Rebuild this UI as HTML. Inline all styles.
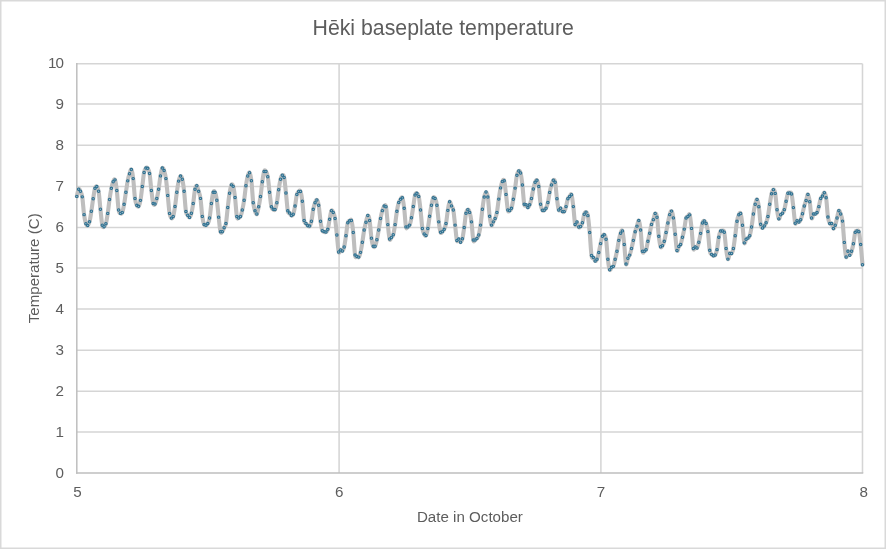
<!DOCTYPE html>
<html><head><meta charset="utf-8"><title>Chart</title>
<style>
html,body{margin:0;padding:0;background:#fff;}
body{width:886px;height:549px;overflow:hidden;font-family:"Liberation Sans",sans-serif;}
svg{display:block;}
text{font-family:"Liberation Sans",sans-serif;fill:#5d5d5d;}
svg{will-change:transform;}
</style></head><body>
<svg width="886" height="549" viewBox="0 0 886 549">
<rect x="0" y="0" width="886" height="549" fill="#ffffff"/>
<rect x="0.75" y="0.75" width="884.5" height="547.5" fill="none" stroke="#d9d9d9" stroke-width="1.5"/>
<g stroke="#d5d5d5" stroke-width="1.55" fill="none"><line x1="76.80" y1="431.90" x2="862.50" y2="431.90"/><line x1="76.80" y1="391.30" x2="862.50" y2="391.30"/><line x1="76.80" y1="350.20" x2="862.50" y2="350.20"/><line x1="76.80" y1="308.90" x2="862.50" y2="308.90"/><line x1="76.80" y1="268.00" x2="862.50" y2="268.00"/><line x1="76.80" y1="227.40" x2="862.50" y2="227.40"/><line x1="76.80" y1="186.40" x2="862.50" y2="186.40"/><line x1="76.80" y1="145.30" x2="862.50" y2="145.30"/><line x1="76.80" y1="104.00" x2="862.50" y2="104.00"/><line x1="76.80" y1="63.74" x2="862.50" y2="63.74"/><line x1="339.10" y1="63.74" x2="339.10" y2="472.90"/><line x1="600.90" y1="63.74" x2="600.90" y2="472.90"/><line x1="862.50" y1="63.74" x2="862.50" y2="472.90"/></g>
<g stroke="#bebebe" stroke-width="1.5" fill="none" stroke-linecap="square"><line x1="76.80" y1="472.90" x2="862.50" y2="472.90"/><line x1="76.80" y1="63.74" x2="76.80" y2="472.90"/></g>
<path d="M76.80 196.38 C77.10 195.18 78.01 190.02 78.62 189.18 C79.22 188.33 79.83 190.00 80.44 191.29 C81.04 192.57 81.65 192.98 82.26 196.87 C82.86 200.76 83.47 210.16 84.08 214.63 C84.68 219.10 85.29 221.89 85.89 223.69 C86.50 225.49 87.11 225.74 87.71 225.43 C88.32 225.12 88.92 224.19 89.53 221.83 C90.14 219.47 90.74 215.12 91.35 211.28 C91.96 207.43 92.56 202.56 93.17 198.74 C93.78 194.91 94.38 190.33 94.99 188.31 C95.59 186.28 96.20 186.07 96.81 186.57 C97.41 187.07 98.02 187.50 98.62 191.29 C99.23 195.07 99.84 203.64 100.44 209.29 C101.05 214.94 101.66 222.28 102.26 225.18 C102.87 228.08 103.47 226.92 104.08 226.67 C104.69 226.42 105.29 225.90 105.90 223.69 C106.51 221.48 107.11 217.42 107.72 213.39 C108.33 209.35 108.93 203.66 109.54 199.48 C110.14 195.30 110.75 191.27 111.36 188.31 C111.96 185.35 112.57 183.13 113.17 181.73 C113.78 180.32 114.39 178.42 114.99 179.86 C115.60 181.31 116.21 185.39 116.81 190.42 C117.42 195.45 118.02 206.21 118.63 210.03 C119.24 213.86 119.84 212.97 120.45 213.39 C121.06 213.80 121.66 214.03 122.27 212.52 C122.88 211.01 123.48 207.70 124.09 204.32 C124.69 200.95 125.30 196.19 125.91 192.28 C126.51 188.37 127.12 183.96 127.72 180.86 C128.33 177.75 128.94 175.54 129.54 173.66 C130.15 171.77 130.76 168.73 131.36 169.56 C131.97 170.39 132.58 173.80 133.18 178.62 C133.79 183.44 134.39 194.04 135.00 198.49 C135.61 202.94 136.21 204.01 136.82 205.32 C137.42 206.62 138.03 207.14 138.64 206.31 C139.24 205.48 139.85 203.66 140.46 200.35 C141.06 197.04 141.67 191.10 142.28 186.44 C142.88 181.79 143.49 175.48 144.09 172.42 C144.70 169.35 145.31 168.75 145.91 168.07 C146.52 167.39 147.12 167.43 147.73 168.32 C148.34 169.21 148.94 169.73 149.55 173.41 C150.16 177.09 150.76 185.41 151.37 190.42 C151.97 195.43 152.58 201.18 153.19 203.45 C153.79 205.73 154.40 204.90 155.01 204.07 C155.61 203.25 156.22 200.97 156.82 198.49 C157.43 196.00 158.04 192.94 158.64 189.18 C159.25 185.41 159.86 179.41 160.46 175.89 C161.07 172.37 161.68 168.96 162.28 168.07 C162.89 167.18 163.49 168.79 164.10 170.55 C164.71 172.31 165.31 174.48 165.92 178.62 C166.52 182.76 167.13 189.59 167.74 195.38 C168.34 201.18 168.95 209.60 169.56 213.39 C170.16 217.17 170.77 217.59 171.38 218.10 C171.98 218.62 172.59 218.41 173.19 216.49 C173.80 214.57 174.41 210.59 175.01 206.56 C175.62 202.52 176.23 196.52 176.83 192.28 C177.44 188.04 178.04 183.80 178.65 181.11 C179.26 178.41 179.86 176.40 180.47 176.09 C181.07 175.78 181.68 176.72 182.29 179.26 C182.89 181.79 183.50 185.95 184.11 191.31 C184.71 196.68 185.32 207.43 185.93 211.43 C186.53 215.42 187.14 214.28 187.74 215.28 C188.35 216.27 188.96 217.72 189.56 217.39 C190.17 217.05 190.78 215.61 191.38 213.29 C191.99 210.97 192.59 207.50 193.20 203.48 C193.81 199.47 194.41 192.16 195.02 189.20 C195.62 186.24 196.23 185.38 196.84 185.73 C197.44 186.08 198.05 189.20 198.66 191.31 C199.26 193.42 199.87 194.21 200.48 198.39 C201.08 202.57 201.69 212.05 202.29 216.39 C202.90 220.74 203.51 222.99 204.11 224.46 C204.72 225.93 205.33 225.35 205.93 225.21 C206.54 225.06 207.14 224.79 207.75 223.59 C208.36 222.39 208.96 221.36 209.57 218.01 C210.18 214.65 210.78 207.76 211.39 203.48 C211.99 199.20 212.60 194.17 213.21 192.31 C213.81 190.44 214.42 190.98 215.03 192.31 C215.63 193.63 216.24 196.11 216.84 200.25 C217.45 204.39 218.06 211.90 218.66 217.14 C219.27 222.37 219.88 229.24 220.48 231.66 C221.09 234.08 221.69 232.33 222.30 231.66 C222.91 231.00 223.51 229.04 224.12 227.69 C224.73 226.35 225.33 226.97 225.94 223.59 C226.54 220.22 227.15 212.52 227.76 207.45 C228.36 202.38 228.97 196.94 229.57 193.18 C230.18 189.41 230.79 186.00 231.39 184.86 C232.00 183.72 232.61 184.24 233.21 186.35 C233.82 188.46 234.42 192.49 235.03 197.52 C235.64 202.55 236.24 213.10 236.85 216.52 C237.46 219.93 238.06 218.01 238.67 218.01 C239.27 218.01 239.88 217.86 240.49 216.52 C241.09 215.17 241.70 212.65 242.31 209.94 C242.91 207.23 243.52 204.29 244.12 200.25 C244.73 196.22 245.34 189.76 245.94 185.73 C246.55 181.69 247.16 178.22 247.76 176.04 C248.37 173.87 248.97 171.90 249.58 172.69 C250.19 173.48 250.79 175.75 251.40 180.76 C252.01 185.77 252.61 197.73 253.22 202.74 C253.82 207.74 254.43 208.92 255.04 210.81 C255.64 212.69 256.25 214.70 256.86 214.03 C257.46 213.37 258.07 209.75 258.68 206.83 C259.28 203.92 259.89 200.71 260.49 196.53 C261.10 192.35 261.71 185.93 262.31 181.75 C262.92 177.57 263.53 173.17 264.13 171.45 C264.74 169.73 265.34 170.56 265.95 171.45 C266.56 172.34 267.16 173.31 267.77 176.79 C268.38 180.26 268.98 187.30 269.59 192.31 C270.19 197.31 270.80 204.00 271.41 206.83 C272.01 209.67 272.62 208.86 273.23 209.32 C273.83 209.77 274.44 210.66 275.04 209.56 C275.65 208.47 276.26 206.05 276.86 202.74 C277.47 199.43 278.08 193.61 278.68 189.70 C279.29 185.79 279.89 181.69 280.50 179.27 C281.11 176.85 281.71 175.48 282.32 175.17 C282.93 174.86 283.53 174.44 284.14 177.41 C284.74 180.38 285.35 187.41 285.96 192.97 C286.56 198.54 287.17 207.44 287.78 210.80 C288.38 214.15 288.99 212.30 289.59 213.09 C290.20 213.88 290.81 215.35 291.41 215.53 C292.02 215.71 292.62 215.75 293.23 214.17 C293.84 212.59 294.44 209.32 295.05 206.05 C295.66 202.77 296.26 196.97 296.87 194.53 C297.48 192.09 298.08 191.94 298.69 191.42 C299.29 190.90 299.90 189.79 300.51 191.42 C301.11 193.04 301.72 196.32 302.32 201.17 C302.93 206.02 303.54 216.81 304.14 220.54 C304.75 224.26 305.36 222.66 305.96 223.52 C306.57 224.37 307.18 225.26 307.78 225.68 C308.39 226.11 308.99 226.84 309.60 226.09 C310.21 225.35 310.81 224.01 311.42 221.21 C312.02 218.42 312.63 212.39 313.24 209.30 C313.84 206.20 314.45 204.22 315.06 202.66 C315.66 201.10 316.27 199.52 316.88 199.95 C317.48 200.38 318.09 201.69 318.69 205.23 C319.30 208.78 319.91 216.97 320.51 221.21 C321.12 225.46 321.73 228.96 322.33 230.70 C322.94 232.43 323.54 231.42 324.15 231.64 C324.76 231.87 325.36 232.43 325.97 232.05 C326.57 231.67 327.18 231.46 327.79 229.34 C328.39 227.22 329.00 222.43 329.61 219.32 C330.21 216.20 330.82 211.80 331.43 210.65 C332.03 209.50 332.64 211.10 333.24 212.41 C333.85 213.72 334.46 214.74 335.06 218.51 C335.67 222.28 336.28 229.45 336.88 235.03 C337.49 240.60 338.09 249.48 338.70 251.96 C339.31 254.44 339.91 250.09 340.52 249.93 C341.12 249.77 341.73 251.51 342.34 251.01 C342.94 250.51 343.55 249.50 344.16 246.95 C344.76 244.40 345.37 239.72 345.98 235.71 C346.58 231.69 347.19 225.32 347.79 222.84 C348.40 220.36 349.01 221.19 349.61 220.81 C350.22 220.42 350.83 218.60 351.43 220.54 C352.04 222.48 352.64 226.70 353.25 232.46 C353.86 238.21 354.46 251.08 355.07 255.07 C355.68 259.07 356.28 256.09 356.89 256.43 C357.49 256.77 358.10 257.78 358.71 257.11 C359.31 256.43 359.92 254.85 360.53 252.37 C361.13 249.88 361.74 245.93 362.34 242.21 C362.95 238.48 363.56 233.36 364.16 230.02 C364.77 226.68 365.38 224.58 365.98 222.16 C366.59 219.75 367.19 215.80 367.80 215.53 C368.41 215.26 369.01 216.77 369.62 220.54 C370.23 224.31 370.83 233.86 371.44 238.14 C372.04 242.43 372.65 244.92 373.26 246.27 C373.86 247.63 374.47 247.35 375.08 246.27 C375.68 245.19 376.29 242.48 376.89 239.77 C377.50 237.06 378.11 233.56 378.71 230.02 C379.32 226.47 379.93 221.73 380.53 218.51 C381.14 215.28 381.74 212.73 382.35 210.65 C382.96 208.57 383.56 206.70 384.17 206.05 C384.78 205.39 385.38 203.63 385.99 206.72 C386.59 209.81 387.20 219.21 387.81 224.60 C388.41 230.00 389.02 236.95 389.62 239.09 C390.23 241.24 390.84 238.19 391.44 237.47 C392.05 236.74 392.66 236.90 393.26 234.76 C393.87 232.61 394.48 228.51 395.08 224.60 C395.69 220.70 396.29 215.00 396.90 211.33 C397.51 207.66 398.11 204.58 398.72 202.58 C399.32 200.58 399.93 200.12 400.54 199.33 C401.14 198.54 401.75 196.34 402.36 197.84 C402.96 199.34 403.57 203.50 404.18 208.34 C404.78 213.18 405.39 223.79 405.99 226.88 C406.60 229.98 407.21 227.18 407.81 226.88 C408.42 226.59 409.03 226.64 409.63 225.12 C410.24 223.61 410.84 220.90 411.45 217.81 C412.06 214.72 412.66 210.36 413.27 206.57 C413.88 202.78 414.48 197.27 415.09 195.06 C415.69 192.84 416.30 193.07 416.91 193.30 C417.51 193.52 418.12 193.63 418.73 196.41 C419.33 199.19 419.94 204.60 420.54 209.95 C421.15 215.30 421.76 224.51 422.36 228.51 C422.97 232.51 423.58 232.78 424.18 233.93 C424.79 235.08 425.39 236.32 426.00 235.42 C426.61 234.51 427.21 231.69 427.82 228.51 C428.43 225.33 429.03 220.20 429.64 216.32 C430.24 212.44 430.85 208.31 431.46 205.21 C432.06 202.12 432.67 198.89 433.28 197.77 C433.88 196.64 434.49 197.20 435.09 198.44 C435.70 199.68 436.31 201.31 436.91 205.21 C437.52 209.12 438.13 217.36 438.73 221.87 C439.34 226.39 439.94 230.68 440.55 232.30 C441.16 233.93 441.76 232.12 442.37 231.63 C442.98 231.13 443.58 230.68 444.19 229.32 C444.79 227.97 445.40 226.66 446.01 223.50 C446.61 220.34 447.22 213.97 447.83 210.36 C448.43 206.75 449.04 202.57 449.64 201.83 C450.25 201.08 450.86 204.54 451.46 205.89 C452.07 207.25 452.68 206.75 453.28 209.95 C453.89 213.16 454.49 220.05 455.10 225.12 C455.71 230.20 456.31 238.10 456.92 240.43 C457.53 242.75 458.13 238.78 458.74 239.07 C459.34 239.37 459.95 242.23 460.56 242.19 C461.16 242.14 461.77 241.24 462.38 238.80 C462.98 236.37 463.59 231.81 464.19 227.56 C464.80 223.32 465.41 216.32 466.01 213.34 C466.62 210.36 467.23 209.84 467.83 209.68 C468.44 209.53 469.04 210.36 469.65 212.39 C470.26 214.42 470.86 217.27 471.47 221.87 C472.08 226.48 472.68 237.00 473.29 240.02 C473.89 243.05 474.50 240.29 475.11 240.02 C475.71 239.75 476.32 239.23 476.93 238.40 C477.53 237.56 478.14 237.22 478.74 235.01 C479.35 232.80 479.96 229.41 480.56 225.12 C481.17 220.84 481.78 213.95 482.38 209.28 C482.99 204.60 483.59 199.98 484.20 197.09 C484.81 194.20 485.41 191.94 486.02 191.94 C486.62 191.94 487.23 193.02 487.84 197.09 C488.44 201.15 489.05 211.65 489.66 216.32 C490.26 220.99 490.87 224.20 491.48 225.12 C492.08 226.05 492.69 222.98 493.29 221.87 C493.90 220.77 494.51 220.07 495.11 218.49 C495.72 216.91 496.33 215.62 496.93 212.39 C497.54 209.16 498.14 203.21 498.75 199.12 C499.36 195.03 499.96 190.81 500.57 187.88 C501.18 184.94 501.78 182.69 502.39 181.51 C502.99 180.34 503.60 178.69 504.21 180.84 C504.81 182.98 505.42 189.53 506.03 194.38 C506.63 199.23 507.24 207.25 507.84 209.95 C508.45 212.66 509.06 210.90 509.66 210.63 C510.27 210.36 510.88 210.21 511.48 208.33 C512.09 206.45 512.69 202.71 513.30 199.34 C513.91 195.97 514.51 192.10 515.12 188.10 C515.73 184.09 516.33 178.15 516.94 175.30 C517.54 172.45 518.15 171.36 518.76 170.98 C519.36 170.60 519.97 170.69 520.58 173.01 C521.18 175.34 521.79 179.74 522.39 184.93 C523.00 190.12 523.61 200.84 524.21 204.16 C524.82 207.48 525.42 204.28 526.03 204.84 C526.64 205.40 527.24 207.55 527.85 207.55 C528.46 207.55 529.06 206.35 529.67 204.84 C530.28 203.33 530.88 201.12 531.49 198.47 C532.09 195.83 532.70 191.70 533.31 188.99 C533.91 186.28 534.52 183.69 535.12 182.22 C535.73 180.75 536.34 179.47 536.94 180.19 C537.55 180.91 538.16 182.56 538.76 186.56 C539.37 190.55 539.97 200.21 540.58 204.16 C541.19 208.11 541.79 209.24 542.40 210.26 C543.01 211.27 543.61 210.60 544.22 210.26 C544.83 209.92 545.43 209.51 546.04 208.23 C546.64 206.94 547.25 205.18 547.86 202.54 C548.46 199.90 549.07 195.31 549.67 192.38 C550.28 189.44 550.89 186.96 551.49 184.93 C552.10 182.90 552.71 180.64 553.31 180.19 C553.92 179.74 554.52 179.13 555.13 182.22 C555.74 185.31 556.34 194.12 556.95 198.74 C557.56 203.37 558.16 208.41 558.77 209.99 C559.38 211.57 559.98 207.95 560.59 208.23 C561.19 208.50 561.80 211.05 562.41 211.61 C563.01 212.18 563.62 212.45 564.23 211.61 C564.83 210.78 565.44 208.74 566.04 206.60 C566.65 204.46 567.26 200.44 567.86 198.74 C568.47 197.05 569.07 197.12 569.68 196.44 C570.29 195.77 570.89 192.99 571.50 194.68 C572.11 196.37 572.71 201.64 573.32 206.60 C573.93 211.56 574.53 221.88 575.14 224.43 C575.74 226.98 576.35 221.49 576.96 221.92 C577.56 222.35 578.17 226.25 578.77 227.00 C579.38 227.76 579.99 227.17 580.59 226.46 C581.20 225.75 581.81 224.78 582.41 222.74 C583.02 220.69 583.62 215.98 584.23 214.20 C584.84 212.43 585.44 211.87 586.05 212.10 C586.66 212.34 587.26 212.22 587.87 215.63 C588.48 219.03 589.08 225.90 589.69 232.56 C590.29 239.21 590.90 251.36 591.51 255.53 C592.11 259.70 592.72 256.66 593.33 257.56 C593.93 258.47 594.54 260.68 595.14 260.95 C595.75 261.22 596.36 260.59 596.96 259.19 C597.57 257.79 598.17 255.15 598.78 252.55 C599.39 249.95 599.99 246.32 600.60 243.61 C601.21 240.90 601.81 237.77 602.42 236.30 C603.03 234.83 603.63 234.31 604.24 234.81 C604.84 235.30 605.45 235.21 606.06 239.28 C606.66 243.34 607.27 254.11 607.88 259.19 C608.48 264.27 609.09 268.40 609.69 269.75 C610.30 271.11 610.91 267.88 611.51 267.31 C612.12 266.75 612.72 267.72 613.33 266.37 C613.94 265.01 614.54 261.72 615.15 259.19 C615.76 256.66 616.36 254.33 616.97 251.20 C617.58 248.06 618.18 243.36 618.79 240.36 C619.39 237.36 620.00 234.76 620.61 233.18 C621.21 231.60 621.82 229.01 622.42 230.88 C623.03 232.75 623.64 238.89 624.24 244.42 C624.85 249.95 625.46 261.76 626.06 264.06 C626.67 266.37 627.27 259.73 627.88 258.24 C628.49 256.75 629.09 256.75 629.70 255.12 C630.31 253.50 630.91 250.95 631.52 248.49 C632.12 246.03 632.73 243.14 633.34 240.36 C633.94 237.58 634.55 234.20 635.16 231.83 C635.76 229.46 636.37 228.01 636.98 226.14 C637.58 224.27 638.19 219.93 638.79 220.59 C639.40 221.24 640.01 224.97 640.61 230.07 C641.22 235.17 641.82 247.67 642.43 251.20 C643.04 254.72 643.64 251.44 644.25 251.20 C644.86 250.95 645.46 251.35 646.07 249.71 C646.68 248.06 647.28 244.06 647.89 241.31 C648.49 238.56 649.10 236.00 649.71 233.18 C650.31 230.36 650.92 226.64 651.52 224.38 C652.13 222.12 652.74 221.44 653.34 219.64 C653.95 217.83 654.56 213.95 655.16 213.54 C655.77 213.14 656.38 213.41 656.98 217.20 C657.59 220.99 658.19 231.38 658.80 236.30 C659.41 241.22 660.01 245.17 660.62 246.73 C661.23 248.28 661.83 246.55 662.44 245.64 C663.04 244.74 663.65 243.50 664.26 241.31 C664.86 239.12 665.47 235.55 666.08 232.51 C666.68 229.46 667.29 226.00 667.89 223.02 C668.50 220.05 669.11 216.61 669.71 214.63 C670.32 212.64 670.92 210.56 671.53 211.11 C672.14 211.65 672.74 214.02 673.35 217.88 C673.96 221.74 674.56 228.83 675.17 234.27 C675.78 239.71 676.38 248.49 676.99 250.52 C677.59 252.55 678.20 247.47 678.81 246.46 C679.41 245.44 680.02 245.96 680.62 244.42 C681.23 242.89 681.84 239.80 682.44 237.25 C683.05 234.70 683.66 232.33 684.26 229.12 C684.87 225.91 685.47 220.12 686.08 218.01 C686.69 215.91 687.29 217.01 687.90 216.48 C688.51 215.96 689.11 212.87 689.72 214.86 C690.33 216.84 690.93 222.79 691.54 228.40 C692.14 234.01 692.75 245.43 693.36 248.51 C693.96 251.60 694.57 247.00 695.17 246.92 C695.78 246.83 696.39 248.79 696.99 248.00 C697.60 247.21 698.21 244.61 698.81 242.18 C699.42 239.74 700.03 236.58 700.63 233.37 C701.24 230.17 701.84 225.02 702.45 222.94 C703.06 220.87 703.66 220.82 704.27 220.91 C704.88 221.00 705.48 221.70 706.09 223.49 C706.69 225.27 707.30 227.14 707.91 231.61 C708.51 236.08 709.12 246.51 709.73 250.30 C710.33 254.09 710.94 253.46 711.54 254.37 C712.15 255.27 712.76 255.61 713.36 255.72 C713.97 255.83 714.57 256.06 715.18 255.04 C715.79 254.03 716.39 252.60 717.00 249.63 C717.61 246.65 718.21 240.26 718.82 237.16 C719.42 234.07 720.03 232.11 720.64 231.07 C721.24 230.03 721.85 230.73 722.46 230.93 C723.06 231.14 723.67 229.35 724.27 232.29 C724.88 235.22 725.49 244.07 726.09 248.54 C726.70 253.01 727.31 258.29 727.91 259.11 C728.52 259.92 729.12 254.37 729.73 253.42 C730.34 252.47 730.94 254.23 731.55 253.42 C732.16 252.60 732.76 251.50 733.37 248.54 C733.98 245.58 734.58 240.23 735.19 235.67 C735.79 231.12 736.40 224.66 737.01 221.18 C737.61 217.71 738.22 216.10 738.82 214.82 C739.43 213.53 740.04 211.72 740.64 213.46 C741.25 215.20 741.86 220.35 742.46 225.25 C743.07 230.14 743.67 240.53 744.28 242.85 C744.89 245.18 745.49 239.99 746.10 239.20 C746.71 238.41 747.31 238.70 747.92 238.11 C748.52 237.53 749.13 237.53 749.74 235.67 C750.34 233.82 750.95 230.62 751.56 227.01 C752.16 223.40 752.77 217.80 753.38 214.00 C753.98 210.21 754.59 206.67 755.19 204.25 C755.80 201.84 756.41 199.11 757.01 199.51 C757.62 199.92 758.22 202.56 758.83 206.69 C759.44 210.82 760.04 220.75 760.65 224.30 C761.26 227.84 761.86 227.68 762.47 227.95 C763.08 228.23 763.68 226.78 764.29 225.92 C764.89 225.07 765.50 224.39 766.11 222.81 C766.71 221.23 767.32 219.53 767.92 216.44 C768.53 213.35 769.14 208.02 769.74 204.25 C770.35 200.48 770.96 196.26 771.56 193.82 C772.17 191.39 772.77 189.70 773.38 189.63 C773.99 189.55 774.59 190.03 775.20 193.39 C775.81 196.74 776.41 205.53 777.02 209.77 C777.62 214.02 778.23 218.01 778.84 218.85 C779.44 219.68 780.05 215.73 780.66 214.79 C781.26 213.84 781.87 214.02 782.48 213.16 C783.08 212.30 783.69 211.64 784.29 209.64 C784.90 207.64 785.51 203.91 786.11 201.17 C786.72 198.44 787.32 194.63 787.93 193.25 C788.54 191.87 789.14 192.80 789.75 192.91 C790.36 193.02 790.96 191.48 791.57 193.93 C792.18 196.38 792.78 202.73 793.39 207.61 C793.99 212.48 794.60 221.02 795.21 223.18 C795.81 225.35 796.42 220.79 797.02 220.61 C797.63 220.43 798.24 222.26 798.84 222.10 C799.45 221.94 800.06 221.06 800.66 219.66 C801.27 218.26 801.88 215.99 802.48 213.70 C803.09 211.41 803.69 208.13 804.30 205.91 C804.91 203.70 805.51 202.35 806.12 200.43 C806.73 198.51 807.33 194.18 807.94 194.40 C808.54 194.62 809.15 197.82 809.76 201.75 C810.36 205.69 810.97 215.97 811.58 218.00 C812.18 220.04 812.79 214.62 813.39 213.94 C814.00 213.26 814.61 214.17 815.21 213.94 C815.82 213.72 816.42 213.81 817.03 212.59 C817.64 211.37 818.24 208.98 818.85 206.63 C819.46 204.28 820.06 200.26 820.67 198.50 C821.28 196.74 821.88 197.03 822.49 196.06 C823.09 195.09 823.70 192.38 824.31 192.68 C824.91 192.97 825.52 193.76 826.12 197.82 C826.73 201.89 827.34 212.77 827.94 217.06 C828.55 221.35 829.16 222.47 829.76 223.56 C830.37 224.64 830.97 222.72 831.58 223.56 C832.19 224.39 832.79 228.30 833.40 228.57 C834.01 228.84 834.61 226.94 835.22 225.18 C835.83 223.42 836.43 220.42 837.04 218.00 C837.64 215.59 838.25 211.37 838.86 210.69 C839.46 210.01 840.07 212.20 840.67 213.94 C841.28 215.68 841.89 216.38 842.49 221.12 C843.10 225.86 843.71 236.40 844.31 242.38 C844.92 248.37 845.52 255.54 846.13 257.01 C846.74 258.48 847.34 251.48 847.95 251.19 C848.56 250.89 849.16 255.25 849.77 255.25 C850.38 255.25 850.98 253.11 851.59 251.19 C852.19 249.27 852.80 246.88 853.41 243.74 C854.01 240.60 854.62 234.48 855.23 232.36 C855.83 230.24 856.44 231.12 857.04 231.01 C857.65 230.89 858.26 229.43 858.86 231.68 C859.47 233.94 860.07 239.04 860.68 244.55 C861.29 250.06 862.20 261.37 862.50 264.73" fill="none" stroke="#bebebe" stroke-width="4.1" stroke-linejoin="round" stroke-linecap="round"/>
<g fill="#9dbccb" stroke="#2b6f90" stroke-width="1.05"><circle cx="76.80" cy="196.38" r="1.2"/><circle cx="78.62" cy="189.18" r="1.2"/><circle cx="80.44" cy="191.29" r="1.2"/><circle cx="82.26" cy="196.87" r="1.2"/><circle cx="84.08" cy="214.63" r="1.2"/><circle cx="85.89" cy="223.69" r="1.2"/><circle cx="87.71" cy="225.43" r="1.2"/><circle cx="89.53" cy="221.83" r="1.2"/><circle cx="91.35" cy="211.28" r="1.2"/><circle cx="93.17" cy="198.74" r="1.2"/><circle cx="94.99" cy="188.31" r="1.2"/><circle cx="96.81" cy="186.57" r="1.2"/><circle cx="98.62" cy="191.29" r="1.2"/><circle cx="100.44" cy="209.29" r="1.2"/><circle cx="102.26" cy="225.18" r="1.2"/><circle cx="104.08" cy="226.67" r="1.2"/><circle cx="105.90" cy="223.69" r="1.2"/><circle cx="107.72" cy="213.39" r="1.2"/><circle cx="109.54" cy="199.48" r="1.2"/><circle cx="111.36" cy="188.31" r="1.2"/><circle cx="113.17" cy="181.73" r="1.2"/><circle cx="114.99" cy="179.86" r="1.2"/><circle cx="116.81" cy="190.42" r="1.2"/><circle cx="118.63" cy="210.03" r="1.2"/><circle cx="120.45" cy="213.39" r="1.2"/><circle cx="122.27" cy="212.52" r="1.2"/><circle cx="124.09" cy="204.32" r="1.2"/><circle cx="125.91" cy="192.28" r="1.2"/><circle cx="127.72" cy="180.86" r="1.2"/><circle cx="129.54" cy="173.66" r="1.2"/><circle cx="131.36" cy="169.56" r="1.2"/><circle cx="133.18" cy="178.62" r="1.2"/><circle cx="135.00" cy="198.49" r="1.2"/><circle cx="136.82" cy="205.32" r="1.2"/><circle cx="138.64" cy="206.31" r="1.2"/><circle cx="140.46" cy="200.35" r="1.2"/><circle cx="142.28" cy="186.44" r="1.2"/><circle cx="144.09" cy="172.42" r="1.2"/><circle cx="145.91" cy="168.07" r="1.2"/><circle cx="147.73" cy="168.32" r="1.2"/><circle cx="149.55" cy="173.41" r="1.2"/><circle cx="151.37" cy="190.42" r="1.2"/><circle cx="153.19" cy="203.45" r="1.2"/><circle cx="155.01" cy="204.07" r="1.2"/><circle cx="156.82" cy="198.49" r="1.2"/><circle cx="158.64" cy="189.18" r="1.2"/><circle cx="160.46" cy="175.89" r="1.2"/><circle cx="162.28" cy="168.07" r="1.2"/><circle cx="164.10" cy="170.55" r="1.2"/><circle cx="165.92" cy="178.62" r="1.2"/><circle cx="167.74" cy="195.38" r="1.2"/><circle cx="169.56" cy="213.39" r="1.2"/><circle cx="171.38" cy="218.10" r="1.2"/><circle cx="173.19" cy="216.49" r="1.2"/><circle cx="175.01" cy="206.56" r="1.2"/><circle cx="176.83" cy="192.28" r="1.2"/><circle cx="178.65" cy="181.11" r="1.2"/><circle cx="180.47" cy="176.09" r="1.2"/><circle cx="182.29" cy="179.26" r="1.2"/><circle cx="184.11" cy="191.31" r="1.2"/><circle cx="185.93" cy="211.43" r="1.2"/><circle cx="187.74" cy="215.28" r="1.2"/><circle cx="189.56" cy="217.39" r="1.2"/><circle cx="191.38" cy="213.29" r="1.2"/><circle cx="193.20" cy="203.48" r="1.2"/><circle cx="195.02" cy="189.20" r="1.2"/><circle cx="196.84" cy="185.73" r="1.2"/><circle cx="198.66" cy="191.31" r="1.2"/><circle cx="200.48" cy="198.39" r="1.2"/><circle cx="202.29" cy="216.39" r="1.2"/><circle cx="204.11" cy="224.46" r="1.2"/><circle cx="205.93" cy="225.21" r="1.2"/><circle cx="207.75" cy="223.59" r="1.2"/><circle cx="209.57" cy="218.01" r="1.2"/><circle cx="211.39" cy="203.48" r="1.2"/><circle cx="213.21" cy="192.31" r="1.2"/><circle cx="215.03" cy="192.31" r="1.2"/><circle cx="216.84" cy="200.25" r="1.2"/><circle cx="218.66" cy="217.14" r="1.2"/><circle cx="220.48" cy="231.66" r="1.2"/><circle cx="222.30" cy="231.66" r="1.2"/><circle cx="224.12" cy="227.69" r="1.2"/><circle cx="225.94" cy="223.59" r="1.2"/><circle cx="227.76" cy="207.45" r="1.2"/><circle cx="229.57" cy="193.18" r="1.2"/><circle cx="231.39" cy="184.86" r="1.2"/><circle cx="233.21" cy="186.35" r="1.2"/><circle cx="235.03" cy="197.52" r="1.2"/><circle cx="236.85" cy="216.52" r="1.2"/><circle cx="238.67" cy="218.01" r="1.2"/><circle cx="240.49" cy="216.52" r="1.2"/><circle cx="242.31" cy="209.94" r="1.2"/><circle cx="244.12" cy="200.25" r="1.2"/><circle cx="245.94" cy="185.73" r="1.2"/><circle cx="247.76" cy="176.04" r="1.2"/><circle cx="249.58" cy="172.69" r="1.2"/><circle cx="251.40" cy="180.76" r="1.2"/><circle cx="253.22" cy="202.74" r="1.2"/><circle cx="255.04" cy="210.81" r="1.2"/><circle cx="256.86" cy="214.03" r="1.2"/><circle cx="258.68" cy="206.83" r="1.2"/><circle cx="260.49" cy="196.53" r="1.2"/><circle cx="262.31" cy="181.75" r="1.2"/><circle cx="264.13" cy="171.45" r="1.2"/><circle cx="265.95" cy="171.45" r="1.2"/><circle cx="267.77" cy="176.79" r="1.2"/><circle cx="269.59" cy="192.31" r="1.2"/><circle cx="271.41" cy="206.83" r="1.2"/><circle cx="273.23" cy="209.32" r="1.2"/><circle cx="275.04" cy="209.56" r="1.2"/><circle cx="276.86" cy="202.74" r="1.2"/><circle cx="278.68" cy="189.70" r="1.2"/><circle cx="280.50" cy="179.27" r="1.2"/><circle cx="282.32" cy="175.17" r="1.2"/><circle cx="284.14" cy="177.41" r="1.2"/><circle cx="285.96" cy="192.97" r="1.2"/><circle cx="287.78" cy="210.80" r="1.2"/><circle cx="289.59" cy="213.09" r="1.2"/><circle cx="291.41" cy="215.53" r="1.2"/><circle cx="293.23" cy="214.17" r="1.2"/><circle cx="295.05" cy="206.05" r="1.2"/><circle cx="296.87" cy="194.53" r="1.2"/><circle cx="298.69" cy="191.42" r="1.2"/><circle cx="300.51" cy="191.42" r="1.2"/><circle cx="302.32" cy="201.17" r="1.2"/><circle cx="304.14" cy="220.54" r="1.2"/><circle cx="305.96" cy="223.52" r="1.2"/><circle cx="307.78" cy="225.68" r="1.2"/><circle cx="309.60" cy="226.09" r="1.2"/><circle cx="311.42" cy="221.21" r="1.2"/><circle cx="313.24" cy="209.30" r="1.2"/><circle cx="315.06" cy="202.66" r="1.2"/><circle cx="316.88" cy="199.95" r="1.2"/><circle cx="318.69" cy="205.23" r="1.2"/><circle cx="320.51" cy="221.21" r="1.2"/><circle cx="322.33" cy="230.70" r="1.2"/><circle cx="324.15" cy="231.64" r="1.2"/><circle cx="325.97" cy="232.05" r="1.2"/><circle cx="327.79" cy="229.34" r="1.2"/><circle cx="329.61" cy="219.32" r="1.2"/><circle cx="331.43" cy="210.65" r="1.2"/><circle cx="333.24" cy="212.41" r="1.2"/><circle cx="335.06" cy="218.51" r="1.2"/><circle cx="336.88" cy="235.03" r="1.2"/><circle cx="338.70" cy="251.96" r="1.2"/><circle cx="340.52" cy="249.93" r="1.2"/><circle cx="342.34" cy="251.01" r="1.2"/><circle cx="344.16" cy="246.95" r="1.2"/><circle cx="345.98" cy="235.71" r="1.2"/><circle cx="347.79" cy="222.84" r="1.2"/><circle cx="349.61" cy="220.81" r="1.2"/><circle cx="351.43" cy="220.54" r="1.2"/><circle cx="353.25" cy="232.46" r="1.2"/><circle cx="355.07" cy="255.07" r="1.2"/><circle cx="356.89" cy="256.43" r="1.2"/><circle cx="358.71" cy="257.11" r="1.2"/><circle cx="360.53" cy="252.37" r="1.2"/><circle cx="362.34" cy="242.21" r="1.2"/><circle cx="364.16" cy="230.02" r="1.2"/><circle cx="365.98" cy="222.16" r="1.2"/><circle cx="367.80" cy="215.53" r="1.2"/><circle cx="369.62" cy="220.54" r="1.2"/><circle cx="371.44" cy="238.14" r="1.2"/><circle cx="373.26" cy="246.27" r="1.2"/><circle cx="375.08" cy="246.27" r="1.2"/><circle cx="376.89" cy="239.77" r="1.2"/><circle cx="378.71" cy="230.02" r="1.2"/><circle cx="380.53" cy="218.51" r="1.2"/><circle cx="382.35" cy="210.65" r="1.2"/><circle cx="384.17" cy="206.05" r="1.2"/><circle cx="385.99" cy="206.72" r="1.2"/><circle cx="387.81" cy="224.60" r="1.2"/><circle cx="389.62" cy="239.09" r="1.2"/><circle cx="391.44" cy="237.47" r="1.2"/><circle cx="393.26" cy="234.76" r="1.2"/><circle cx="395.08" cy="224.60" r="1.2"/><circle cx="396.90" cy="211.33" r="1.2"/><circle cx="398.72" cy="202.58" r="1.2"/><circle cx="400.54" cy="199.33" r="1.2"/><circle cx="402.36" cy="197.84" r="1.2"/><circle cx="404.18" cy="208.34" r="1.2"/><circle cx="405.99" cy="226.88" r="1.2"/><circle cx="407.81" cy="226.88" r="1.2"/><circle cx="409.63" cy="225.12" r="1.2"/><circle cx="411.45" cy="217.81" r="1.2"/><circle cx="413.27" cy="206.57" r="1.2"/><circle cx="415.09" cy="195.06" r="1.2"/><circle cx="416.91" cy="193.30" r="1.2"/><circle cx="418.73" cy="196.41" r="1.2"/><circle cx="420.54" cy="209.95" r="1.2"/><circle cx="422.36" cy="228.51" r="1.2"/><circle cx="424.18" cy="233.93" r="1.2"/><circle cx="426.00" cy="235.42" r="1.2"/><circle cx="427.82" cy="228.51" r="1.2"/><circle cx="429.64" cy="216.32" r="1.2"/><circle cx="431.46" cy="205.21" r="1.2"/><circle cx="433.28" cy="197.77" r="1.2"/><circle cx="435.09" cy="198.44" r="1.2"/><circle cx="436.91" cy="205.21" r="1.2"/><circle cx="438.73" cy="221.87" r="1.2"/><circle cx="440.55" cy="232.30" r="1.2"/><circle cx="442.37" cy="231.63" r="1.2"/><circle cx="444.19" cy="229.32" r="1.2"/><circle cx="446.01" cy="223.50" r="1.2"/><circle cx="447.83" cy="210.36" r="1.2"/><circle cx="449.64" cy="201.83" r="1.2"/><circle cx="451.46" cy="205.89" r="1.2"/><circle cx="453.28" cy="209.95" r="1.2"/><circle cx="455.10" cy="225.12" r="1.2"/><circle cx="456.92" cy="240.43" r="1.2"/><circle cx="458.74" cy="239.07" r="1.2"/><circle cx="460.56" cy="242.19" r="1.2"/><circle cx="462.38" cy="238.80" r="1.2"/><circle cx="464.19" cy="227.56" r="1.2"/><circle cx="466.01" cy="213.34" r="1.2"/><circle cx="467.83" cy="209.68" r="1.2"/><circle cx="469.65" cy="212.39" r="1.2"/><circle cx="471.47" cy="221.87" r="1.2"/><circle cx="473.29" cy="240.02" r="1.2"/><circle cx="475.11" cy="240.02" r="1.2"/><circle cx="476.93" cy="238.40" r="1.2"/><circle cx="478.74" cy="235.01" r="1.2"/><circle cx="480.56" cy="225.12" r="1.2"/><circle cx="482.38" cy="209.28" r="1.2"/><circle cx="484.20" cy="197.09" r="1.2"/><circle cx="486.02" cy="191.94" r="1.2"/><circle cx="487.84" cy="197.09" r="1.2"/><circle cx="489.66" cy="216.32" r="1.2"/><circle cx="491.48" cy="225.12" r="1.2"/><circle cx="493.29" cy="221.87" r="1.2"/><circle cx="495.11" cy="218.49" r="1.2"/><circle cx="496.93" cy="212.39" r="1.2"/><circle cx="498.75" cy="199.12" r="1.2"/><circle cx="500.57" cy="187.88" r="1.2"/><circle cx="502.39" cy="181.51" r="1.2"/><circle cx="504.21" cy="180.84" r="1.2"/><circle cx="506.03" cy="194.38" r="1.2"/><circle cx="507.84" cy="209.95" r="1.2"/><circle cx="509.66" cy="210.63" r="1.2"/><circle cx="511.48" cy="208.33" r="1.2"/><circle cx="513.30" cy="199.34" r="1.2"/><circle cx="515.12" cy="188.10" r="1.2"/><circle cx="516.94" cy="175.30" r="1.2"/><circle cx="518.76" cy="170.98" r="1.2"/><circle cx="520.58" cy="173.01" r="1.2"/><circle cx="522.39" cy="184.93" r="1.2"/><circle cx="524.21" cy="204.16" r="1.2"/><circle cx="526.03" cy="204.84" r="1.2"/><circle cx="527.85" cy="207.55" r="1.2"/><circle cx="529.67" cy="204.84" r="1.2"/><circle cx="531.49" cy="198.47" r="1.2"/><circle cx="533.31" cy="188.99" r="1.2"/><circle cx="535.12" cy="182.22" r="1.2"/><circle cx="536.94" cy="180.19" r="1.2"/><circle cx="538.76" cy="186.56" r="1.2"/><circle cx="540.58" cy="204.16" r="1.2"/><circle cx="542.40" cy="210.26" r="1.2"/><circle cx="544.22" cy="210.26" r="1.2"/><circle cx="546.04" cy="208.23" r="1.2"/><circle cx="547.86" cy="202.54" r="1.2"/><circle cx="549.67" cy="192.38" r="1.2"/><circle cx="551.49" cy="184.93" r="1.2"/><circle cx="553.31" cy="180.19" r="1.2"/><circle cx="555.13" cy="182.22" r="1.2"/><circle cx="556.95" cy="198.74" r="1.2"/><circle cx="558.77" cy="209.99" r="1.2"/><circle cx="560.59" cy="208.23" r="1.2"/><circle cx="562.41" cy="211.61" r="1.2"/><circle cx="564.23" cy="211.61" r="1.2"/><circle cx="566.04" cy="206.60" r="1.2"/><circle cx="567.86" cy="198.74" r="1.2"/><circle cx="569.68" cy="196.44" r="1.2"/><circle cx="571.50" cy="194.68" r="1.2"/><circle cx="573.32" cy="206.60" r="1.2"/><circle cx="575.14" cy="224.43" r="1.2"/><circle cx="576.96" cy="221.92" r="1.2"/><circle cx="578.77" cy="227.00" r="1.2"/><circle cx="580.59" cy="226.46" r="1.2"/><circle cx="582.41" cy="222.74" r="1.2"/><circle cx="584.23" cy="214.20" r="1.2"/><circle cx="586.05" cy="212.10" r="1.2"/><circle cx="587.87" cy="215.63" r="1.2"/><circle cx="589.69" cy="232.56" r="1.2"/><circle cx="591.51" cy="255.53" r="1.2"/><circle cx="593.33" cy="257.56" r="1.2"/><circle cx="595.14" cy="260.95" r="1.2"/><circle cx="596.96" cy="259.19" r="1.2"/><circle cx="598.78" cy="252.55" r="1.2"/><circle cx="600.60" cy="243.61" r="1.2"/><circle cx="602.42" cy="236.30" r="1.2"/><circle cx="604.24" cy="234.81" r="1.2"/><circle cx="606.06" cy="239.28" r="1.2"/><circle cx="607.88" cy="259.19" r="1.2"/><circle cx="609.69" cy="269.75" r="1.2"/><circle cx="611.51" cy="267.31" r="1.2"/><circle cx="613.33" cy="266.37" r="1.2"/><circle cx="615.15" cy="259.19" r="1.2"/><circle cx="616.97" cy="251.20" r="1.2"/><circle cx="618.79" cy="240.36" r="1.2"/><circle cx="620.61" cy="233.18" r="1.2"/><circle cx="622.42" cy="230.88" r="1.2"/><circle cx="624.24" cy="244.42" r="1.2"/><circle cx="626.06" cy="264.06" r="1.2"/><circle cx="627.88" cy="258.24" r="1.2"/><circle cx="629.70" cy="255.12" r="1.2"/><circle cx="631.52" cy="248.49" r="1.2"/><circle cx="633.34" cy="240.36" r="1.2"/><circle cx="635.16" cy="231.83" r="1.2"/><circle cx="636.98" cy="226.14" r="1.2"/><circle cx="638.79" cy="220.59" r="1.2"/><circle cx="640.61" cy="230.07" r="1.2"/><circle cx="642.43" cy="251.20" r="1.2"/><circle cx="644.25" cy="251.20" r="1.2"/><circle cx="646.07" cy="249.71" r="1.2"/><circle cx="647.89" cy="241.31" r="1.2"/><circle cx="649.71" cy="233.18" r="1.2"/><circle cx="651.52" cy="224.38" r="1.2"/><circle cx="653.34" cy="219.64" r="1.2"/><circle cx="655.16" cy="213.54" r="1.2"/><circle cx="656.98" cy="217.20" r="1.2"/><circle cx="658.80" cy="236.30" r="1.2"/><circle cx="660.62" cy="246.73" r="1.2"/><circle cx="662.44" cy="245.64" r="1.2"/><circle cx="664.26" cy="241.31" r="1.2"/><circle cx="666.08" cy="232.51" r="1.2"/><circle cx="667.89" cy="223.02" r="1.2"/><circle cx="669.71" cy="214.63" r="1.2"/><circle cx="671.53" cy="211.11" r="1.2"/><circle cx="673.35" cy="217.88" r="1.2"/><circle cx="675.17" cy="234.27" r="1.2"/><circle cx="676.99" cy="250.52" r="1.2"/><circle cx="678.81" cy="246.46" r="1.2"/><circle cx="680.62" cy="244.42" r="1.2"/><circle cx="682.44" cy="237.25" r="1.2"/><circle cx="684.26" cy="229.12" r="1.2"/><circle cx="686.08" cy="218.01" r="1.2"/><circle cx="687.90" cy="216.48" r="1.2"/><circle cx="689.72" cy="214.86" r="1.2"/><circle cx="691.54" cy="228.40" r="1.2"/><circle cx="693.36" cy="248.51" r="1.2"/><circle cx="695.17" cy="246.92" r="1.2"/><circle cx="696.99" cy="248.00" r="1.2"/><circle cx="698.81" cy="242.18" r="1.2"/><circle cx="700.63" cy="233.37" r="1.2"/><circle cx="702.45" cy="222.94" r="1.2"/><circle cx="704.27" cy="220.91" r="1.2"/><circle cx="706.09" cy="223.49" r="1.2"/><circle cx="707.91" cy="231.61" r="1.2"/><circle cx="709.73" cy="250.30" r="1.2"/><circle cx="711.54" cy="254.37" r="1.2"/><circle cx="713.36" cy="255.72" r="1.2"/><circle cx="715.18" cy="255.04" r="1.2"/><circle cx="717.00" cy="249.63" r="1.2"/><circle cx="718.82" cy="237.16" r="1.2"/><circle cx="720.64" cy="231.07" r="1.2"/><circle cx="722.46" cy="230.93" r="1.2"/><circle cx="724.27" cy="232.29" r="1.2"/><circle cx="726.09" cy="248.54" r="1.2"/><circle cx="727.91" cy="259.11" r="1.2"/><circle cx="729.73" cy="253.42" r="1.2"/><circle cx="731.55" cy="253.42" r="1.2"/><circle cx="733.37" cy="248.54" r="1.2"/><circle cx="735.19" cy="235.67" r="1.2"/><circle cx="737.01" cy="221.18" r="1.2"/><circle cx="738.82" cy="214.82" r="1.2"/><circle cx="740.64" cy="213.46" r="1.2"/><circle cx="742.46" cy="225.25" r="1.2"/><circle cx="744.28" cy="242.85" r="1.2"/><circle cx="746.10" cy="239.20" r="1.2"/><circle cx="747.92" cy="238.11" r="1.2"/><circle cx="749.74" cy="235.67" r="1.2"/><circle cx="751.56" cy="227.01" r="1.2"/><circle cx="753.38" cy="214.00" r="1.2"/><circle cx="755.19" cy="204.25" r="1.2"/><circle cx="757.01" cy="199.51" r="1.2"/><circle cx="758.83" cy="206.69" r="1.2"/><circle cx="760.65" cy="224.30" r="1.2"/><circle cx="762.47" cy="227.95" r="1.2"/><circle cx="764.29" cy="225.92" r="1.2"/><circle cx="766.11" cy="222.81" r="1.2"/><circle cx="767.92" cy="216.44" r="1.2"/><circle cx="769.74" cy="204.25" r="1.2"/><circle cx="771.56" cy="193.82" r="1.2"/><circle cx="773.38" cy="189.63" r="1.2"/><circle cx="775.20" cy="193.39" r="1.2"/><circle cx="777.02" cy="209.77" r="1.2"/><circle cx="778.84" cy="218.85" r="1.2"/><circle cx="780.66" cy="214.79" r="1.2"/><circle cx="782.48" cy="213.16" r="1.2"/><circle cx="784.29" cy="209.64" r="1.2"/><circle cx="786.11" cy="201.17" r="1.2"/><circle cx="787.93" cy="193.25" r="1.2"/><circle cx="789.75" cy="192.91" r="1.2"/><circle cx="791.57" cy="193.93" r="1.2"/><circle cx="793.39" cy="207.61" r="1.2"/><circle cx="795.21" cy="223.18" r="1.2"/><circle cx="797.02" cy="220.61" r="1.2"/><circle cx="798.84" cy="222.10" r="1.2"/><circle cx="800.66" cy="219.66" r="1.2"/><circle cx="802.48" cy="213.70" r="1.2"/><circle cx="804.30" cy="205.91" r="1.2"/><circle cx="806.12" cy="200.43" r="1.2"/><circle cx="807.94" cy="194.40" r="1.2"/><circle cx="809.76" cy="201.75" r="1.2"/><circle cx="811.58" cy="218.00" r="1.2"/><circle cx="813.39" cy="213.94" r="1.2"/><circle cx="815.21" cy="213.94" r="1.2"/><circle cx="817.03" cy="212.59" r="1.2"/><circle cx="818.85" cy="206.63" r="1.2"/><circle cx="820.67" cy="198.50" r="1.2"/><circle cx="822.49" cy="196.06" r="1.2"/><circle cx="824.31" cy="192.68" r="1.2"/><circle cx="826.12" cy="197.82" r="1.2"/><circle cx="827.94" cy="217.06" r="1.2"/><circle cx="829.76" cy="223.56" r="1.2"/><circle cx="831.58" cy="223.56" r="1.2"/><circle cx="833.40" cy="228.57" r="1.2"/><circle cx="835.22" cy="225.18" r="1.2"/><circle cx="837.04" cy="218.00" r="1.2"/><circle cx="838.86" cy="210.69" r="1.2"/><circle cx="840.67" cy="213.94" r="1.2"/><circle cx="842.49" cy="221.12" r="1.2"/><circle cx="844.31" cy="242.38" r="1.2"/><circle cx="846.13" cy="257.01" r="1.2"/><circle cx="847.95" cy="251.19" r="1.2"/><circle cx="849.77" cy="255.25" r="1.2"/><circle cx="851.59" cy="251.19" r="1.2"/><circle cx="853.41" cy="243.74" r="1.2"/><circle cx="855.23" cy="232.36" r="1.2"/><circle cx="857.04" cy="231.01" r="1.2"/><circle cx="858.86" cy="231.68" r="1.2"/><circle cx="860.68" cy="244.55" r="1.2"/><circle cx="862.50" cy="264.73" r="1.2"/></g>
<g font-size="15.2px"><text x="63.85" y="477.50" text-anchor="end">0</text><text x="63.85" y="436.50" text-anchor="end">1</text><text x="63.85" y="395.90" text-anchor="end">2</text><text x="63.85" y="354.80" text-anchor="end">3</text><text x="63.85" y="313.50" text-anchor="end">4</text><text x="63.85" y="272.60" text-anchor="end">5</text><text x="63.85" y="232.00" text-anchor="end">6</text><text x="63.85" y="191.00" text-anchor="end">7</text><text x="63.85" y="149.90" text-anchor="end">8</text><text x="63.85" y="108.60" text-anchor="end">9</text><text x="63.85" y="68.34" text-anchor="end" dx="0 -1.0">10</text><text x="77.45" y="497.40" text-anchor="middle">5</text><text x="339.25" y="497.40" text-anchor="middle">6</text><text x="601.10" y="497.40" text-anchor="middle">7</text><text x="863.70" y="497.40" text-anchor="middle">8</text></g>
<text x="443.2" y="35.3" text-anchor="middle" font-size="22.15px" textLength="261.3" lengthAdjust="spacingAndGlyphs">Hēki baseplate temperature</text>
<text x="469.9" y="522.0" text-anchor="middle" font-size="15.5px" textLength="106" lengthAdjust="spacingAndGlyphs">Date in October</text>
<text transform="translate(38.6 268.3) rotate(-90)" text-anchor="middle" font-size="15.5px" textLength="110" lengthAdjust="spacingAndGlyphs">Temperature (C)</text>
</svg>
</body></html>
